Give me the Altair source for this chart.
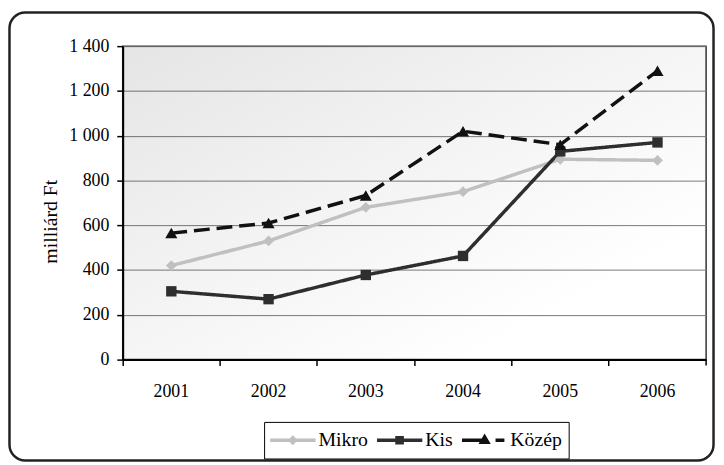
import altair as alt
import pandas as pd

years = ["2001", "2002", "2003", "2004", "2005", "2006"]
series_names = ["Mikro", "Kis", "Közép"]
mikro = [420, 530, 680, 750, 895, 890]
kis = [305, 270, 378, 463, 930, 970]
kozep = [565, 610, 733, 1020, 960, 1290]
y_ticks = [0, 200, 400, 600, 800, 1000, 1200, 1400]

rows = []
for name, vals in zip(series_names, [mikro, kis, kozep]):
    for yr, v in zip(years, vals):
        rows.append({"year": yr, "series": name, "value": v})
df = pd.DataFrame(rows)

W, H = 590, 317
FONT = "Liberation Serif, Times New Roman, serif"

colors = ["#c0c0c0", "#2e2e2e", "#111111"]
marker_shapes = ["diamond", "square", "triangle-up"]
marker_sizes = [120, 110, 150]

# legend symbols: line + marker (custom paths)
leg_paths = [
    "M-1,-0.075L1,-0.075L1,0.075L-1,0.075Z M0,-0.22L0.22,0L0,0.22L-0.22,0Z",
    "M-1,-0.075L1,-0.075L1,0.075L-1,0.075Z M-0.19,-0.19L0.19,-0.19L0.19,0.19L-0.19,0.19Z",
    "M-1,-0.075L0,-0.075L0,0.075L-1,0.075Z M0,-0.3L0.27,0.17L-0.27,0.17Z M0.48,-0.075L0.87,-0.075L0.87,0.075L0.48,0.075Z",
]

leg = alt.Legend(
    title=None, orient="none", legendX=143, legendY=380,
    direction="horizontal",
    symbolSize=2116, symbolOpacity=1, symbolStrokeWidth=0,
    clipHeight=25,
    labelFont=FONT, labelFontSize=20, labelColor="#000", labelOffset=3,
    columnPadding=9, padding=6,
    strokeColor="#000", fillColor="#fff",
)

color_enc = alt.Color(
    "series:N", scale=alt.Scale(domain=series_names, range=colors), legend=leg
)

x_enc = alt.X(
    "year:N",
    sort=years,
    scale=alt.Scale(type="band", paddingInner=0, paddingOuter=0),
    axis=alt.Axis(
        title=None, bandPosition=0, labelAngle=0,
        labelFont=FONT, labelFontSize=18, labelColor="#000", labelPadding=17,
        tickColor="#000", tickSize=6, tickWidth=1.5,
        domainColor="#000", domainWidth=2, grid=False,
    ),
)
y_enc = alt.Y(
    "value:Q",
    scale=alt.Scale(domain=[0, 1400], nice=False),
    axis=alt.Axis(
        values=y_ticks, title="milliárd Ft",
        titleFont=FONT, titleFontSize=20, titleFontWeight="normal", titleColor="#000",
        titleX=-63, titleY=177, titleAlign="center", titleAngle=270,
        labelExpr="replace(format(datum.value, ','), ',', ' ')",
        labelFont=FONT, labelFontSize=18, labelColor="#000", labelPadding=8,
        tickColor="#000", tickSize=6, tickWidth=1.5,
        domainColor="#000", domainWidth=2,
        grid=True, gridColor="#7a7a7a", gridWidth=1,
    ),
)

bg = alt.Chart(pd.DataFrame({"a": [0]})).mark_rect(
    color=alt.Gradient(
        gradient="linear",
        stops=[
            alt.GradientStop(color="rgba(0,0,0,0.10)", offset=0),
            alt.GradientStop(color="rgba(0,0,0,0.045)", offset=0.45),
            alt.GradientStop(color="rgba(0,0,0,0)", offset=0.8),
        ],
        x1=0, y1=0, x2=1, y2=1,
    )
).encode(x=alt.value(0), x2=alt.value(W), y=alt.value(0), y2=alt.value(H))

frame = alt.Chart(pd.DataFrame({"a": [0]})).mark_rect(
    fill=None, stroke="#222", strokeWidth=2.5, cornerRadius=16
).encode(x=alt.value(-114.5), x2=alt.value(597.5), y=alt.value(-34), y2=alt.value(419))

end_tick = alt.Chart(pd.DataFrame({"a": [0]})).mark_rule(
    color="#000", strokeWidth=1.5
).encode(x=alt.value(W), y=alt.value(H), y2=alt.value(H + 6))

base = alt.Chart(df)

lines = base.mark_line(strokeWidth=3.5).encode(
    x=x_enc, y=y_enc,
    color=color_enc,
    strokeDash=alt.StrokeDash(
        "series:N",
        scale=alt.Scale(domain=series_names, range=[[1, 0], [1, 0], [16, 7]]),
        legend=None,
    ),
    detail="series:N",
)

point_layers = []
for name, shp, sz in zip(series_names, marker_shapes, marker_sizes):
    point_layers.append(
        base.transform_filter(alt.datum.series == name)
        .mark_point(filled=True, opacity=1, shape=shp, size=sz)
        .encode(x=x_enc, y=y_enc, color=color_enc)
    )

legend_pts = base.mark_point(filled=True, clip=True, yOffset=2000).encode(
    x=x_enc, y=y_enc,
    color=color_enc,
    shape=alt.Shape(
        "series:N",
        scale=alt.Scale(domain=series_names, range=leg_paths),
        legend=leg,
    ),
)

chart = alt.layer(bg, lines, *point_layers, legend_pts, end_tick, frame).properties(
    width=W, height=H,
    autosize=alt.AutoSizeParams(type="none"),
    padding={"left": 116, "top": 36, "right": 10, "bottom": 104},
    background="#ffffff",
).configure_view(
    stroke="#333", strokeWidth=1.5
)

chart.save("out.html", embed_options={"renderer": "svg", "actions": False})
